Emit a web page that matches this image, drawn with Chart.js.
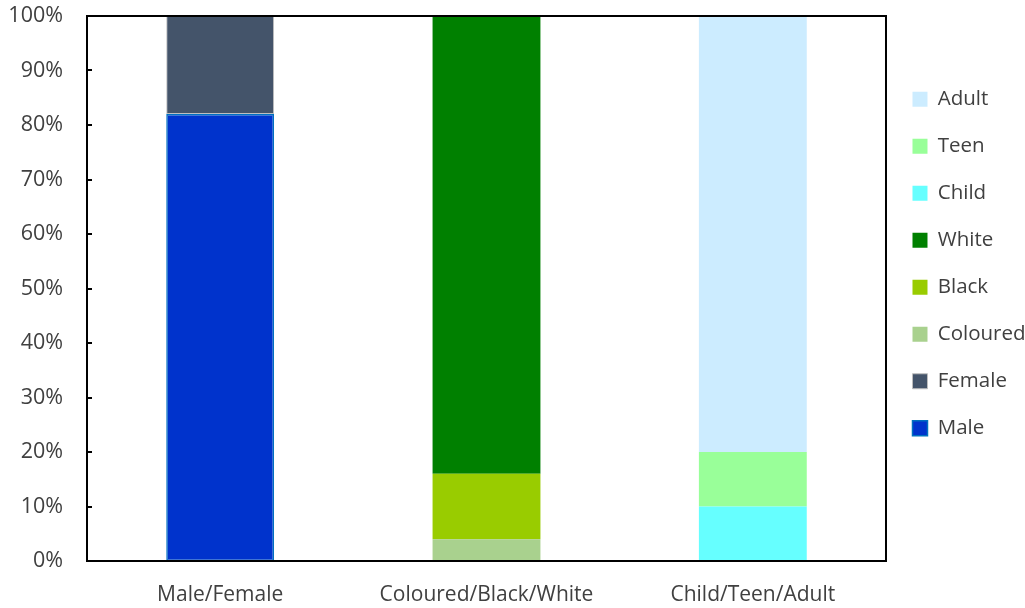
<!DOCTYPE html>
<html>
<head>
<meta charset="utf-8">
<script src="https://cdn.jsdelivr.net/npm/chart.js@4/dist/chart.umd.min.js"></script>
<style>
  html, body { margin: 0; padding: 0; background: #ffffff; }
  #wrap { width: 1025px; height: 608px; }
</style>
</head>
<body>
<div id="wrap"><canvas id="c" width="1025" height="608"></canvas></div>
<script>
// Categories along the x axis
const categories = ['Male/Female', 'Coloured/Black/White', 'Child/Teen/Adult'];

// Share (%) of each group within its category
const male     = [82, null, null];
const female   = [18, null, null];
const coloured = [null, 4, null];
const black    = [null, 12, null];
const white    = [null, 84, null];
const child    = [null, null, 10];
const teen     = [null, null, 10];
const adult    = [null, null, 80];

// Y axis tick values (%)
const yTicks = [0, 10, 20, 30, 40, 50, 60, 70, 80, 90, 100];

const TEXT = '#404040';
const FONT = "'Open Sans', 'Liberation Sans', sans-serif";

function ds(label, data, fill, border, bw) {
  return {
    label: label,
    data: data,
    backgroundColor: fill,
    borderColor: border || fill,
    borderWidth: bw || 0,
    borderSkipped: false,
    categoryPercentage: 1.0,
    barPercentage: 0.405
  };
}

// Plot frame and inward y tick marks
const framePlugin = {
  id: 'frame',
  afterDatasetsDraw(chart) {
    const { ctx, chartArea: a } = chart;
    const y = chart.scales.y;
    ctx.save();
    ctx.strokeStyle = '#000000';
    ctx.lineWidth = 2;
    ctx.strokeRect(a.left, a.top, a.right - a.left, a.bottom - a.top);
    yTicks.forEach(v => {
      const py = Math.round(y.getPixelForValue(v));
      ctx.beginPath();
      ctx.moveTo(a.left, py);
      ctx.lineTo(a.left + 5, py);
      ctx.stroke();
    });
    ctx.restore();
  }
};

new Chart(document.getElementById('c'), {
  type: 'bar',
  data: {
    labels: categories,
    datasets: [
      ds('Male', male, '#0033CC', '#0070C0', 1.5),
      ds('Female', female, '#44546A', '#BFBFBF', 1),
      ds('Coloured', coloured, '#A9D18E'),
      ds('Black', black, '#99CC00'),
      ds('White', white, '#008000'),
      ds('Child', child, '#66FFFF'),
      ds('Teen', teen, '#99FF99'),
      ds('Adult', adult, '#CCECFF')
    ]
  },
  options: {
    responsive: false,
    animation: false,
    devicePixelRatio: 1,
    layout: { padding: { top: 16, right: -10.5, bottom: 0, left: 0 } },
    plugins: {
      legend: {
        position: 'right',
        reverse: true,
        align: 'start',
        title: {
          display: true,
          text: '',
          font: { size: 12, lineHeight: 1 },
          padding: { top: 34.5, bottom: 0 }
        },
        labels: {
          boxWidth: 15,
          boxHeight: 15,
          padding: 26.5,
          color: TEXT,
          font: { family: FONT, size: 20.5, lineHeight: 1.2 }
        }
      },
      tooltip: { enabled: false }
    },
    scales: {
      x: {
        stacked: true,
        grid: { display: false, drawTicks: false },
        border: { display: false },
        ticks: { color: TEXT, padding: 21, font: { family: FONT, size: 21 } },
        afterFit(s) { s.height = 47; s.paddingLeft = 0; s.paddingRight = 0; }
      },
      y: {
        stacked: true,
        min: 0,
        max: 100,
        grid: { display: false, drawTicks: false },
        border: { display: false },
        afterBuildTicks(s) { s.ticks = yTicks.map(v => ({ value: v })); },
        ticks: {
          color: TEXT,
          padding: 24,
          font: { family: FONT, size: 21.5 },
          callback: v => v + '%'
        },
        afterFit(s) { s.width = 87; s.paddingTop = 0; s.paddingBottom = 0; }
      }
    }
  },
  plugins: [framePlugin]
});
</script>
</body>
</html>
